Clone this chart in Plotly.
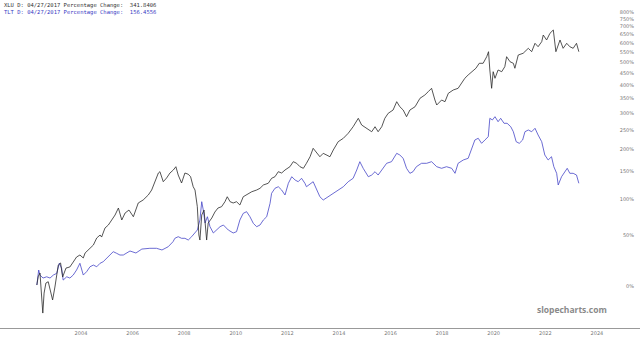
import plotly.graph_objects as go
import pandas as pd

# Decimal-year dates and percentage change
xlu_t = [2002.29, 2002.34, 2002.41, 2002.52, 2002.57, 2002.64, 2002.73, 2002.83, 2002.90, 2002.99,
         2003.12, 2003.21, 2003.29, 2003.42, 2003.57, 2003.70, 2003.83, 2003.96, 2004.09, 2004.16,
         2004.28, 2004.48, 2004.61, 2004.74, 2004.80, 2004.93, 2005.06, 2005.19, 2005.32, 2005.45,
         2005.58, 2005.71, 2005.86, 2006.03, 2006.22, 2006.41, 2006.61, 2006.74, 2006.87, 2007.00,
         2007.06, 2007.19, 2007.32, 2007.45, 2007.58, 2007.68, 2007.77, 2007.90, 2008.03, 2008.16,
         2008.25, 2008.35, 2008.42, 2008.51, 2008.57, 2008.61, 2008.68, 2008.77, 2008.87, 2008.93,
         2009.07, 2009.19, 2009.31, 2009.45, 2009.58, 2009.67, 2009.78, 2009.90, 2010.03, 2010.16,
         2010.29, 2010.42, 2010.62, 2010.81, 2010.94, 2011.07, 2011.26, 2011.39, 2011.52, 2011.65,
         2011.78, 2011.91, 2012.10, 2012.23, 2012.36, 2012.49, 2012.62, 2012.74, 2012.88, 2013.00,
         2013.14, 2013.26, 2013.39, 2013.52, 2013.65, 2013.78, 2013.97, 2014.17, 2014.36, 2014.55,
         2014.75, 2014.88, 2015.07, 2015.27, 2015.40, 2015.52, 2015.66, 2015.78, 2015.91, 2016.10,
         2016.24, 2016.36, 2016.49, 2016.62, 2016.75, 2016.95, 2017.14, 2017.33, 2017.46, 2017.59,
         2017.72, 2017.79, 2017.98, 2018.11, 2018.24, 2018.43, 2018.62, 2018.76, 2018.88, 2019.01,
         2019.14, 2019.31, 2019.44, 2019.59, 2019.73, 2019.80, 2019.85, 2019.92, 2019.98, 2020.05,
         2020.17, 2020.31, 2020.43, 2020.50, 2020.63, 2020.76, 2020.82, 2020.95, 2021.14, 2021.34,
         2021.47, 2021.60, 2021.72, 2021.86, 2021.92, 2022.05, 2022.18, 2022.31, 2022.41, 2022.57,
         2022.69, 2022.83, 2022.95, 2023.08, 2023.21, 2023.30]
xlu_pct = [0.8, 7.7, 11.0, -19.5, -5.5, 2.4, 3.5, -5.5, -10.6, -0.8,
           18.3, 20.3, 7.5, 15.5, 16.5, 21.2, 26.2, 28.2, 25.2, 30.3,
           33.5, 38.9, 47.0, 50.5, 48.1, 59.2, 63.1, 69.8, 76.7, 86.9,
           69.8, 79.6, 83.9, 74.3, 94.6, 99.3, 107.5, 115.9, 130.8, 147.5,
           150.1, 130.8, 137.8, 147.5, 153.5, 160.3, 143.5, 128.4, 147.5, 145.0,
           140.2, 121.7, 115.9, 88.9, 50.5, 44.6, 76.7, 83.9, 44.6, 65.7,
           72.5, 81.0, 86.9, 88.9, 96.6, 104.6, 96.6, 94.6, 96.6, 91.5,
           104.6, 107.5, 113.0, 115.9, 118.9, 124.8, 127.9, 137.2, 140.2, 150.1,
           147.5, 153.5, 160.3, 171.0, 167.5, 160.3, 157.0, 167.5, 182.0, 201.7,
           189.8, 182.0, 189.8, 185.9, 182.0, 197.6, 218.1, 226.9, 240.3, 258.7,
           283.7, 263.7, 254.2, 244.6, 258.7, 244.6, 258.7, 283.7, 299.4, 310.1,
           338.4, 321.1, 310.1, 288.7, 310.1, 321.1, 350.5, 362.6, 375.0, 388.1,
           344.4, 326.9, 344.4, 338.4, 368.9, 381.5, 388.1, 408.1, 428.9, 443.1,
           457.6, 473.1, 496.5, 496.5, 528.9, 554.6, 465.3, 388.1, 457.6, 428.9,
           465.3, 457.6, 480.4, 528.9, 504.2, 496.5, 473.1, 537.5, 546.3, 572.7,
           554.6, 600.2, 581.4, 609.3, 648.4, 619.0, 658.7, 679.1, 554.6, 619.0,
           572.7, 600.2, 581.4, 572.7, 600.2, 554.6]

tlt_t = [2002.29, 2002.36, 2002.41, 2002.53, 2002.67, 2002.80, 2002.93, 2003.06, 2003.16, 2003.25,
         2003.31, 2003.45, 2003.57, 2003.70, 2003.83, 2003.96, 2004.09, 2004.22, 2004.35, 2004.48,
         2004.61, 2004.74, 2004.86, 2005.00, 2005.12, 2005.25, 2005.38, 2005.51, 2005.64, 2005.90,
         2006.13, 2006.36, 2006.67, 2006.93, 2007.14, 2007.38, 2007.57, 2007.64, 2007.77, 2007.90,
         2008.03, 2008.16, 2008.29, 2008.42, 2008.51, 2008.61, 2008.68, 2008.74, 2008.81, 2008.90,
         2009.00, 2009.13, 2009.26, 2009.39, 2009.52, 2009.71, 2009.90, 2010.03, 2010.16, 2010.29,
         2010.42, 2010.55, 2010.68, 2010.81, 2010.94, 2011.07, 2011.20, 2011.33, 2011.39, 2011.52,
         2011.65, 2011.78, 2011.91, 2012.04, 2012.17, 2012.30, 2012.42, 2012.55, 2012.68, 2012.74,
         2013.00, 2013.14, 2013.26, 2013.39, 2013.59, 2013.78, 2013.97, 2014.17, 2014.36, 2014.55,
         2014.69, 2014.81, 2014.94, 2015.14, 2015.27, 2015.40, 2015.52, 2015.72, 2015.85, 2016.04,
         2016.17, 2016.24, 2016.36, 2016.49, 2016.62, 2016.75, 2016.87, 2017.00, 2017.20, 2017.40,
         2017.59, 2017.79, 2017.98, 2018.17, 2018.37, 2018.50, 2018.62, 2018.82, 2019.01, 2019.14,
         2019.27, 2019.40, 2019.53, 2019.66, 2019.79, 2019.85, 2019.95, 2020.05, 2020.17, 2020.27,
         2020.40, 2020.52, 2020.66, 2020.76, 2020.87, 2020.99, 2021.12, 2021.21, 2021.34, 2021.47,
         2021.60, 2021.72, 2021.86, 2021.98, 2022.11, 2022.24, 2022.33, 2022.44, 2022.50, 2022.63,
         2022.76, 2022.85, 2022.95, 2023.08, 2023.21, 2023.30]
tlt_pct = [0.8, 13.7, 9.2, 6.6, 7.7, 6.6, 9.2, 10.7, 20.0, 15.3,
           4.9, 7.7, 6.6, 9.2, 13.7, 20.0, 9.2, 12.2, 16.7, 18.3,
           16.7, 20.0, 21.5, 24.9, 28.2, 31.7, 30.0, 28.2, 28.2, 32.4,
           30.3, 34.5, 35.3, 35.3, 33.5, 37.0, 42.7, 46.6, 48.5, 46.6,
           46.6, 44.6, 48.5, 52.6, 56.7, 69.8, 96.6, 83.9, 65.7, 74.3,
           60.9, 53.0, 56.7, 60.9, 63.1, 56.7, 53.0, 54.6, 69.8, 79.1,
           81.5, 74.3, 65.3, 60.9, 63.1, 69.8, 74.3, 94.1, 110.3, 118.9,
           121.7, 115.9, 107.5, 127.9, 140.2, 134.0, 130.8, 137.2, 127.9, 121.7,
           130.8, 115.9, 104.6, 99.3, 104.6, 110.3, 115.9, 121.7, 130.8, 137.2,
           153.5, 171.0, 157.0, 140.2, 143.5, 150.1, 143.5, 157.0, 167.5, 171.0,
           182.0, 189.8, 185.9, 178.4, 157.0, 146.9, 150.1, 160.3, 167.5, 167.5,
           171.0, 160.3, 157.0, 160.3, 157.0, 146.9, 167.5, 174.7, 178.4, 197.6,
           222.5, 226.9, 214.0, 222.5, 231.1, 283.7, 278.6, 288.7, 273.4, 283.7,
           268.7, 268.7, 258.7, 244.6, 218.1, 214.0, 222.5, 244.6, 249.4, 244.6,
           254.2, 235.7, 218.1, 185.9, 174.7, 182.0, 160.3, 146.9, 124.8, 140.2,
           150.1, 157.0, 146.9, 146.9, 143.5, 127.9]

xtick_years = [2004, 2006, 2008, 2010, 2012, 2014, 2016, 2018, 2020, 2022, 2024]
ytick_pct = [0, 50, 100, 150, 200, 250, 300, 350, 400, 450, 500, 550, 600, 650, 700, 750, 800]
ytick_labels = [f"{p}%" for p in ytick_pct]

header_lines = [
    ("XLU D: 04/27/2017 Percentage Change:  341.8406", "#333333"),
    ("TLT D: 04/27/2017 Percentage Change:  156.4556", "#3b3bc4"),
]


def to_date(t):
    year = int(t)
    start = pd.Timestamp(year=year, month=1, day=1)
    end = pd.Timestamp(year=year + 1, month=1, day=1)
    return start + (end - start) * (t - year)


def factor(p):
    return 1 + p / 100.0


fig = go.Figure()
fig.add_trace(go.Scatter(
    x=[to_date(t) for t in tlt_t], y=[factor(p) for p in tlt_pct],
    mode="lines", line=dict(color="#4646c8", width=0.8), name="TLT", showlegend=False))
fig.add_trace(go.Scatter(
    x=[to_date(t) for t in xlu_t], y=[factor(p) for p in xlu_pct],
    mode="lines", line=dict(color="#2a2a2a", width=0.8), name="XLU", showlegend=False))

for i, (txt, col) in enumerate(header_lines):
    fig.add_annotation(text=txt, xref="paper", yref="paper", x=0.003, y=1 - i * 0.021,
                       xanchor="left", yanchor="top", showarrow=False,
                       font=dict(family="DejaVu Sans Mono", size=5.5, color=col))

fig.add_annotation(text="<b>slopecharts.com</b>", xref="paper", yref="paper",
                   x=0.951, y=0.055, xanchor="right", yanchor="middle", showarrow=False,
                   font=dict(family="Open Sans", size=8.5, color="#8a8a8a"))

fig.update_layout(
    width=640, height=343,
    margin=dict(l=0, r=0, t=0, b=15),
    paper_bgcolor="white", plot_bgcolor="white",
    xaxis=dict(
        range=[to_date(2000.86), to_date(2025.67)],
        showgrid=False, zeroline=False,
        showline=True, linecolor="#999999", linewidth=1,
        tickvals=[pd.Timestamp(year=y, month=1, day=1) for y in xtick_years],
        ticktext=[str(y) for y in xtick_years],
        ticks="", tickfont=dict(size=5, color="#777777", family="DejaVu Sans"),
    ),
    yaxis=dict(
        type="log", side="right",
        range=[-0.1462, 0.996],
        tickvals=[factor(p) for p in ytick_pct], ticktext=ytick_labels,
        ticklabelposition="inside", ticklabelstandoff=3,
        showgrid=False, zeroline=False, showline=False, ticks="",
        tickfont=dict(size=5, color="#777777", family="DejaVu Sans"),
    ),
)

fig.write_html("out.html")
